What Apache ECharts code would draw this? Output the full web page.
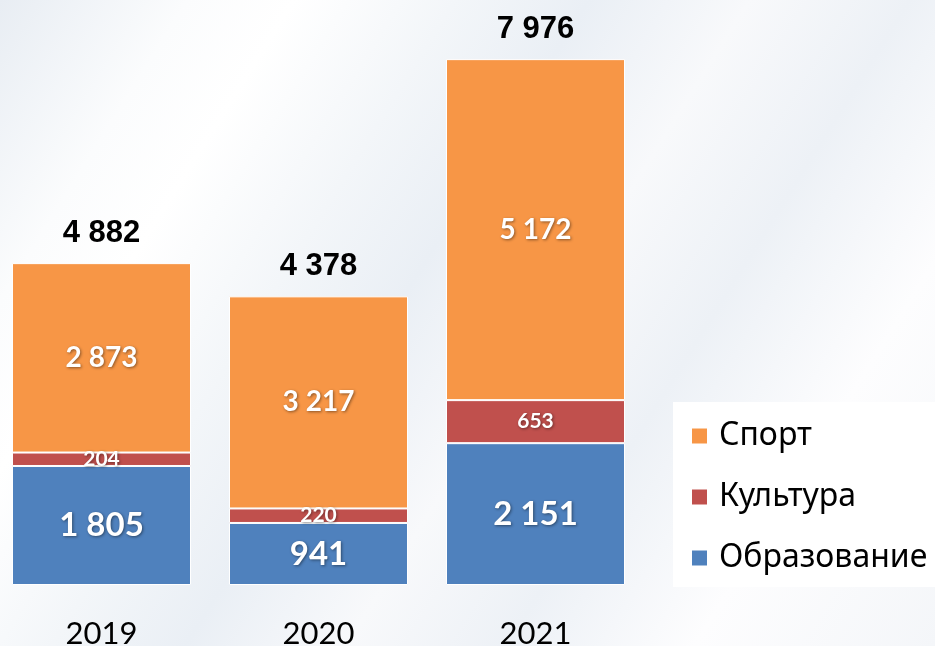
<!DOCTYPE html>
<html>
<head>
<meta charset="utf-8">
<script src="https://cdn.jsdelivr.net/npm/echarts@6/dist/echarts.min.js"></script>
<style>
  html, body { margin: 0; padding: 0; }
  body {
    width: 935px; height: 646px; overflow: hidden; position: relative;
    background: linear-gradient(122deg, #e8edf3 0%, #fbfcfd 14%, #ffffff 22%, #f3f6f9 34%, #eaeff5 44%, #f8f9fb 56%, #edf1f6 68%, #fdfdfe 82%, #f4f6f9 100%);
  }
  /* сдвиг влево, чтобы первый столбик начинался у самого края */
  #chart { position: absolute; left: -7px; top: 0; width: 942px; height: 646px; }
</style>
</head>
<body>
<div id="chart"></div>
<script>
// годы
var years = ['2019', '2020', '2021'];
// значения по направлениям
var education = [1805, 941, 2151];
var culture = [204, 220, 653];
var sport = [2873, 3217, 5172];
// итоги над столбиками
var totals = [4882, 4378, 7976];

function fmt(v) {
  return String(v).replace(/\B(?=(\d{3})+(?!\d))/g, ' ');
}

var whiteLabel = function (size) {
  return {
    show: true,
    position: 'inside',
    color: '#fff',
    fontFamily: 'Lato, "Noto Sans", sans-serif',
    fontWeight: 'bold',
    fontSize: size,
    textShadowColor: 'rgba(0,0,0,0.45)',
    textShadowBlur: 3,
    textShadowOffsetX: 1,
    textShadowOffsetY: 1,
    formatter: function (p) { return fmt(p.value); }
  };
};

var myChart = echarts.init(document.getElementById('chart'));
var option = {
  backgroundColor: 'transparent',
  animation: false,
  grid: { left: 0, width: 651, top: 0, bottom: 61, outerBoundsMode: 'none' },
  xAxis: {
    type: 'category',
    data: years,
    axisLine: { show: false },
    axisTick: { show: false },
    axisLabel: {
      margin: 33,
      fontSize: 31,
      color: '#000',
      fontFamily: 'Lato, "Noto Sans", sans-serif'
    }
  },
  yAxis: {
    type: 'value',
    min: 0,
    max: 8873,
    show: false,
    splitLine: { show: false }
  },
  legend: {
    orient: 'vertical',
    left: 680,
    top: 402,
    backgroundColor: '#fff',
    padding: [18, 40, 13, 17],
    itemWidth: 17,
    itemHeight: 17,
    itemGap: 29,
    icon: 'rect',
    data: ['Спорт', 'Культура', 'Образование'],
    textStyle: {
      fontSize: 32,
      lineHeight: 30,
      padding: [0, 0, 0, 6],
      color: '#000',
      fontFamily: '"Noto Sans", sans-serif'
    }
  },
  series: [
    {
      name: 'Образование',
      type: 'bar',
      stack: 'all',
      barWidth: 179,
      data: education,
      itemStyle: { color: '#4f81bd', borderColor: '#fff', borderWidth: 1 },
      label: whiteLabel(33)
    },
    {
      name: 'Культура',
      type: 'bar',
      stack: 'all',
      data: culture,
      itemStyle: { color: '#c0504d', borderColor: '#fff', borderWidth: 1 },
      label: whiteLabel(21)
    },
    {
      name: 'Спорт',
      type: 'bar',
      stack: 'all',
      data: sport,
      itemStyle: { color: '#f79646', borderColor: '#fff', borderWidth: 1 },
      label: whiteLabel(28)
    },
    {
      // невидимая серия для подписи итогов
      name: 'Итого',
      type: 'bar',
      stack: 'all',
      data: totals.map(function () { return 0; }),
      itemStyle: { color: 'transparent' },
      label: {
        show: true,
        position: 'top',
        distance: 14,
        color: '#000',
        fontFamily: '"Liberation Sans", Arial, sans-serif',
        fontWeight: 'bold',
        fontSize: 31,
        formatter: function (p) { return fmt(totals[p.dataIndex]); }
      }
    }
  ]
};
option && myChart.setOption(option);
</script>
</body>
</html>
